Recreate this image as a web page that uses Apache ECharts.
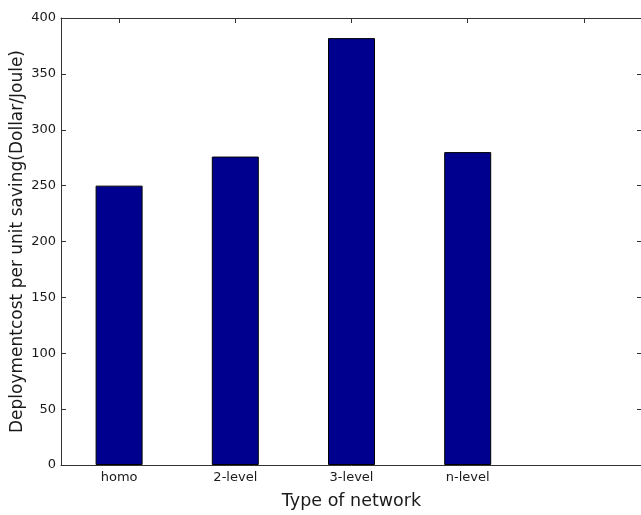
<!DOCTYPE html>
<html>
<head>
<meta charset="utf-8">
<script src="https://cdn.jsdelivr.net/npm/echarts@6/dist/echarts.min.js"></script>
<style>
  html, body { margin: 0; padding: 0; background: #fff; }
  #chart { width: 641px; height: 515px; }
</style>
</head>
<body>
<div id="chart"></div>
<script>
// data
const categories = ['homo', '2-level', '3-level', 'n-level', ''];
const costValues = [250, 276, 382, 280, '-'];
const yTicks = { min: 0, max: 400, interval: 50 };

const chart = echarts.init(document.getElementById('chart'));

const axisColor = '#333';
const textColor = '#1a1a1a';
const fontFamily = 'DejaVu Sans, sans-serif';

const option = {
  animation: false,
  backgroundColor: '#fff',
  grid: {
    left: 61,
    top: 18,
    right: -1,
    bottom: 50,
    outerBoundsMode: 'none',
    containLabel: false,
  },
  xAxis: [{
    type: 'category',
    data: categories,
    name: 'Type of network',
    nameLocation: 'middle',
    nameGap: 27,
    nameMoveOverlap: false,
    nameTextStyle: { fontSize: 17.5, color: textColor, fontFamily },
    axisLine: { show: true, onZero: false, lineStyle: { color: axisColor } },
    axisTick: { show: false },
    axisLabel: { fontSize: 13, color: textColor, margin: 6, fontFamily },
    splitLine: { show: false },
  }, {
    type: 'category',
    data: categories,
    position: 'top',
    axisLine: { show: true, onZero: false, lineStyle: { color: axisColor } },
    axisTick: { show: true, inside: true, alignWithLabel: true, length: 5, lineStyle: { color: axisColor } },
    axisLabel: { show: false },
  }],
  yAxis: [{
    type: 'value',
    min: yTicks.min,
    max: yTicks.max,
    interval: yTicks.interval,
    name: 'Deploymentcost per unit saving(Dollar/Joule)',
    nameLocation: 'middle',
    nameGap: 35,
    nameMoveOverlap: false,
    nameTextStyle: { fontSize: 17, color: textColor, fontFamily },
    axisLine: { show: true, onZero: false, lineStyle: { color: axisColor } },
    axisTick: { show: true, inside: true, length: 5, lineStyle: { color: axisColor } },
    axisLabel: { fontSize: 13, color: textColor, margin: 5, fontFamily },
    splitLine: { show: false },
  }, {
    type: 'value',
    min: yTicks.min,
    max: yTicks.max,
    interval: yTicks.interval,
    position: 'right',
    axisLine: { show: true, onZero: false, lineStyle: { color: axisColor } },
    axisTick: { show: true, inside: true, length: 5, lineStyle: { color: axisColor } },
    axisLabel: { show: false },
    splitLine: { show: false },
  }],
  series: [{
    type: 'bar',
    data: costValues,
    barWidth: 47,
    itemStyle: {
      color: '#00008f',
      borderColor: '#000',
      borderWidth: 1,
    },
  }],
};

chart.setOption(option);
</script>
</body>
</html>
